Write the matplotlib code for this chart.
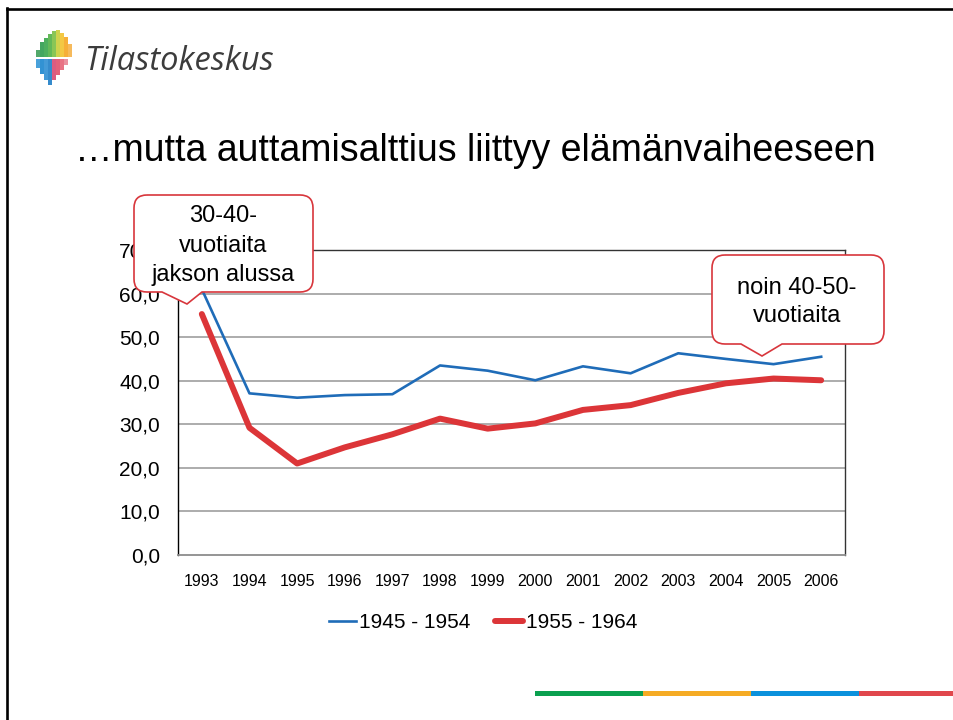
import matplotlib
matplotlib.use("Agg")
import matplotlib.pyplot as plt
from matplotlib.path import Path
from matplotlib.patches import PathPatch, Rectangle
from matplotlib.lines import Line2D

plt.rcParams['font.family'] = ['Liberation Sans', 'DejaVu Sans']

# ---- data ----
years = ['1993', '1994', '1995', '1996', '1997', '1998', '1999', '2000',
         '2001', '2002', '2003', '2004', '2005', '2006']
cohort_1945_1954 = [61.0, 37.1, 36.1, 36.7, 36.9, 43.5, 42.3, 40.1,
                    43.3, 41.7, 46.3, 45.0, 43.8, 45.5]
cohort_1955_1964 = [55.3, 29.2, 21.0, 24.7, 27.7, 31.3, 29.0, 30.2,
                    33.3, 34.4, 37.2, 39.4, 40.5, 40.1]
series_labels = ['1945 - 1954', '1955 - 1964']
yticks = [0, 10, 20, 30, 40, 50, 60, 70]
title = '\u2026mutta auttamisalttius liittyy elämänvaiheeseen'
callout1 = ['30-40-', 'vuotiaita', 'jakson alussa']
callout2 = ['noin 40-50-', 'vuotiaita']

W, H = 954, 720
BLUE = '#1f6cb8'
RED = '#dc3538'
CALLOUT_EDGE = '#d8363c'

fig = plt.figure(figsize=(W / 100, H / 100), dpi=100)


def fx(x):
    return x / W


def fy(y):
    return 1 - y / H


# ---- slide border ----
fig.add_artist(Line2D([fx(7), fx(7)], [fy(8), fy(720)], color='black', lw=1.9,
                      transform=fig.transFigure))
fig.add_artist(Line2D([fx(7), fx(954)], [fy(8.5), fy(8.5)], color='black', lw=1.9,
                      transform=fig.transFigure))

# ---- logo ----
logo_bars = [
    # (x, top, bottom, color)
    (36, 50, 57, '#3f9f5a'), (40, 42, 57, '#2e9d4f'), (44, 38, 57, '#3aa64c'),
    (48, 34, 57, '#52b246'), (52, 31, 57, '#7cc043'), (56, 30, 57, '#c9cf3a'),
    (60, 33, 57, '#f2c230'), (64, 37, 57, '#f6a623'), (68, 44, 57, '#f5b34a'),
    (36, 59, 68, '#3597d6'), (40, 59, 74, '#1b86cf'), (44, 59, 80, '#2f8fd3'),
    (48, 59, 85, '#1f7fc7'), (52, 59, 80, '#d94a72'), (56, 59, 75, '#e2506a'),
    (60, 59, 70, '#e66477'), (64, 59, 65, '#e98595'),
]
for x, top, bot, c in logo_bars:
    fig.add_artist(Rectangle((fx(x), fy(bot)), 3.6 / W, (bot - top) / H,
                             transform=fig.transFigure, color=c, lw=0, alpha=0.9))
fig.text(fx(84), fy(70), 'Tilastokeskus', fontsize=23.5, style='italic',
         family=['Open Sans', 'DejaVu Sans'], color='#3c3c3c', va='baseline', ha='left')

# ---- title ----
fig.text(fx(475), fy(161), title, fontsize=27, ha='center', va='baseline', color='black')

# ---- chart ----
ax = fig.add_axes([fx(178), fy(555), 667 / W, 305 / H])
x = list(range(len(years)))
ax.plot(x, cohort_1945_1954, color=BLUE, lw=1.9, label=series_labels[0], zorder=3,
        solid_joinstyle='round')
ax.plot(x, cohort_1955_1964, color=RED, lw=4.3, label=series_labels[1], zorder=4,
        solid_capstyle='round', solid_joinstyle='round')
ax.set_xlim(-0.5, len(years) - 0.5)
ax.set_ylim(0, 70)
ax.set_yticks(yticks)
ax.set_yticklabels([f'{v:.1f}'.replace('.', ',') for v in yticks], fontsize=15)
ax.set_xticks(x)
ax.set_xticklabels(years, fontsize=11.5)
ax.tick_params(axis='y', length=0, pad=13)
ax.tick_params(axis='x', length=0, pad=14)
for v in yticks[1:-1]:
    ax.axhline(v, color='#a6a6a6', lw=1.3, zorder=1)
ax.spines['left'].set_color('black')
ax.spines['left'].set_linewidth(1.0)
ax.spines['bottom'].set_color('#8c8c8c')
ax.spines['bottom'].set_linewidth(1.3)
ax.spines['top'].set_color('#333333')
ax.spines['top'].set_linewidth(1.0)
ax.spines['right'].set_color('#333333')
ax.spines['right'].set_linewidth(1.0)

leg = fig.legend(loc='center', bbox_to_anchor=(fx(483), fy(623)), ncol=2, frameon=False,
                 fontsize=15, handlelength=1.3, handletextpad=0.15, columnspacing=1.2)


# ---- callouts ----
def callout(left, top, right, bottom, pl, tip, pr, r=13):
    tx, ty = tip
    pts = [
        (left + r, top), (right - r, top), (right, top), (right, top + r),
        (right, bottom - r), (right, bottom), (right - r, bottom),
        (pr, bottom), (tx, ty), (pl, bottom),
        (left + r, bottom), (left, bottom), (left, bottom - r),
        (left, top + r), (left, top), (left + r, top),
    ]
    codes = [Path.MOVETO, Path.LINETO, Path.CURVE3, Path.CURVE3,
             Path.LINETO, Path.CURVE3, Path.CURVE3,
             Path.LINETO, Path.LINETO, Path.LINETO,
             Path.LINETO, Path.CURVE3, Path.CURVE3,
             Path.LINETO, Path.CURVE3, Path.CURVE3]
    verts = [(fx(px), fy(py)) for px, py in pts]
    patch = PathPatch(Path(verts, codes), transform=fig.transFigure, facecolor='white',
                      edgecolor=CALLOUT_EDGE, lw=1.2, zorder=10)
    fig.add_artist(patch)


callout(134, 195, 313, 292, 162, (187, 304), 202)
for line, yy in zip(callout1, [216, 246.5, 275.5]):
    fig.text(fx(223), fy(yy), line, fontsize=17, ha='center', va='center', zorder=11)

callout(712, 255, 884, 344, 741, (762, 356), 782)
for line, yy in zip(callout2, [288.5, 316]):
    fig.text(fx(797), fy(yy), line, fontsize=17, ha='center', va='center', zorder=11)

# ---- bottom stripe ----
stripe = [(535, 643, '#0aa04f'), (643, 751, '#f5ab24'), (751, 859, '#0b91dc'),
          (859, 954, '#e0474c')]
for x0, x1, c in stripe:
    fig.add_artist(Rectangle((fx(x0), fy(696)), (x1 - x0) / W, 5 / H,
                             transform=fig.transFigure, color=c, lw=0))

fig.savefig('out.png', dpi=100)
